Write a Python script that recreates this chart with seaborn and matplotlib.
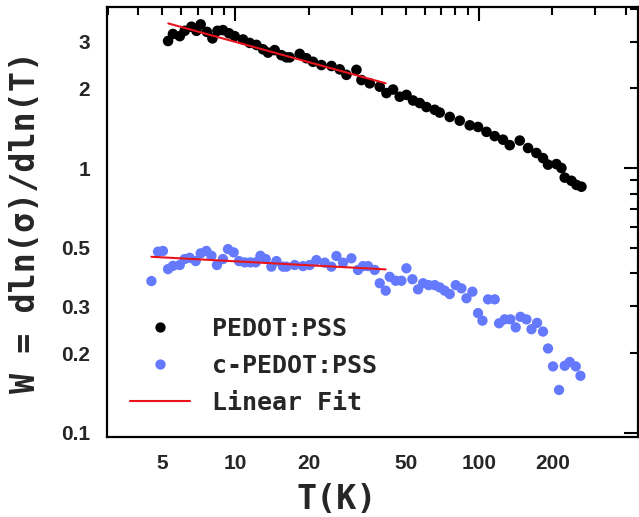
import matplotlib
matplotlib.use("Agg")
import matplotlib.pyplot as plt
import seaborn as sns
import pandas as pd
from matplotlib.ticker import FixedLocator, FuncFormatter
from matplotlib.lines import Line2D

# Temperature (K) and exponent W for the pristine film
black_T = [5.29, 5.54, 5.91, 6.19, 6.60, 6.92, 7.20, 7.64, 8.05, 8.44,
           8.89, 9.41, 9.93, 10.75, 11.45, 12.20, 12.98, 13.61, 14.50, 15.45,
           16.20, 16.71, 18.37, 19.57, 20.83, 22.55, 24.80, 26.82, 28.57, 31.40,
           32.93, 35.61, 39.14, 41.71, 44.39, 47.29, 50.41, 53.64, 57.14, 60.87,
           65.84, 69.02, 75.88, 83.40, 91.66, 99.15, 107.4, 116.1, 125.6, 133.8,
           147.1, 159.1, 172.2, 183.3, 192.2, 208.1, 218.2, 225.1, 239.9, 251.5,
           263.6]
black_W = [3.02, 3.21, 3.15, 3.30, 3.42, 3.30, 3.49, 3.27, 3.09, 3.30,
           3.32, 3.23, 3.15, 3.06, 2.97, 2.92, 2.81, 2.73, 2.79, 2.67,
           2.62, 2.62, 2.70, 2.60, 2.52, 2.45, 2.43, 2.36, 2.25, 2.35,
           2.15, 2.09, 2.03, 1.92, 1.98, 1.86, 1.89, 1.80, 1.76, 1.70,
           1.66, 1.62, 1.56, 1.51, 1.45, 1.43, 1.37, 1.32, 1.28, 1.22,
           1.27, 1.19, 1.14, 1.09, 1.03, 1.035, 1.00, 0.92, 0.895, 0.863,
           0.85]

# Temperature (K) and exponent W for the treated film
blue_T = [4.52, 4.81, 5.04, 5.29, 5.54, 5.91, 6.19, 6.49, 6.87, 7.20,
          7.60, 7.97, 8.40, 8.89, 9.32, 9.84, 10.35, 10.92, 11.52, 12.12,
          12.67, 13.32, 14.05, 14.74, 15.69, 16.20, 17.52, 18.95, 20.19, 21.51,
          23.27, 24.79, 25.99, 27.66, 29.95, 31.88, 33.42, 35.04, 37.34, 39.14,
          41.42, 43.02, 45.52, 48.05, 50.38, 53.33, 56.22, 58.95, 62.21, 65.84,
          69.02, 72.37, 75.88, 80.33, 84.77, 88.88, 94.03, 99.15, 103.4, 109.0,
          116.1, 121.0, 127.6, 134.7, 141.6, 148.1, 156.7, 164.3, 173.3, 183.3,
          192.2, 201.5, 213.3, 225.1, 236.0, 249.8, 261.2]
blue_W = [0.374, 0.483, 0.486, 0.415, 0.427, 0.430, 0.453, 0.458, 0.445, 0.476,
          0.486, 0.466, 0.430, 0.453, 0.494, 0.480, 0.445, 0.440, 0.440, 0.440,
          0.466, 0.453, 0.424, 0.445, 0.424, 0.424, 0.430, 0.426, 0.430, 0.449,
          0.439, 0.424, 0.465, 0.439, 0.456, 0.412, 0.426, 0.426, 0.412, 0.367,
          0.344, 0.388, 0.375, 0.375, 0.418, 0.380, 0.348, 0.367, 0.361, 0.361,
          0.354, 0.344, 0.334, 0.361, 0.351, 0.322, 0.341, 0.283, 0.265, 0.319,
          0.319, 0.259, 0.268, 0.268, 0.250, 0.274, 0.268, 0.246, 0.260, 0.241,
          0.208, 0.178, 0.145, 0.179, 0.185, 0.178, 0.164]

# Power-law fits (end points of each straight segment on log-log axes)
fit_black_T = [5.3, 41.4]
fit_black_W = [3.52, 2.09]
fit_blue_T = [4.52, 41.4]
fit_blue_W = [0.462, 0.414]

series_labels = ["PEDOT:PSS", "c-PEDOT:PSS", "Linear Fit"]
x_tick_labels = [5, 10, 20, 50, 100, 200]
y_tick_labels = [0.1, 0.2, 0.3, 0.5, 1, 2, 3]

BLUE = "#6479fb"
RED = "#e8141c"

sns.set_theme(style="white")
plt.rcParams["font.family"] = ["DejaVu Sans"]

fig = plt.figure(figsize=(6.39, 5.17), dpi=100)
ax = fig.add_axes([107 / 639, 80 / 517, 531 / 639, 430 / 517])

df_black = pd.DataFrame({"T": black_T, "W": black_W})
df_blue = pd.DataFrame({"T": blue_T, "W": blue_W})
sns.scatterplot(data=df_black, x="T", y="W", color="black", s=58,
                edgecolor="none", ax=ax, zorder=3)
sns.scatterplot(data=df_blue, x="T", y="W", color=BLUE, s=55,
                edgecolor="none", ax=ax, zorder=3)
sns.lineplot(x=fit_black_T, y=fit_black_W, color=RED, lw=1.5, ax=ax, zorder=4)
sns.lineplot(x=fit_blue_T, y=fit_blue_W, color=RED, lw=1.5, ax=ax, zorder=4)

ax.set_xscale("log")
ax.set_yscale("log")
ax.set_xlim(2.97, 450)
ax.set_ylim(0.0963, 4.06)

# tick layout: decades long, everything else short
ax.xaxis.set_major_locator(FixedLocator([10, 100]))
ax.xaxis.set_minor_locator(FixedLocator([3, 4, 5, 6, 7, 8, 9, 20, 30, 40, 50, 60,
                                         70, 80, 90, 200, 300, 400]))
ax.yaxis.set_major_locator(FixedLocator([0.1, 1]))
ax.yaxis.set_minor_locator(FixedLocator([0.2, 0.3, 0.4, 0.5, 0.6, 0.7, 0.8, 0.9,
                                         2, 3, 4]))


def fmt_factory(allowed):
    def f(v, pos):
        for a in allowed:
            if abs(v - a) < 1e-6 * max(a, 1):
                return f"{a:g}"
        return ""
    return FuncFormatter(f)


ax.xaxis.set_major_formatter(fmt_factory(x_tick_labels))
ax.xaxis.set_minor_formatter(fmt_factory(x_tick_labels))
ax.yaxis.set_major_formatter(fmt_factory(y_tick_labels))
ax.yaxis.set_minor_formatter(fmt_factory(y_tick_labels))

ax.tick_params(which="both", direction="in", top=True, right=True,
               width=1.5, color="black", pad=12, labelsize=15)
ax.tick_params(which="major", length=10)
ax.tick_params(which="minor", length=6)
for lab in ax.get_xticklabels(which="both") + ax.get_yticklabels(which="both"):
    lab.set_fontfamily("Liberation Sans")
    lab.set_fontweight("bold")

for sp in ax.spines.values():
    sp.set_linewidth(1.6)
    sp.set_color("black")

label_font = dict(family="DejaVu Sans Mono", weight="bold", size=24)
ax.set_xlabel("T(K)", **label_font)
ax.set_ylabel("W = dln(σ)/dln(T)", **label_font)
ax.xaxis.set_label_coords(0.433, -0.106)
ax.yaxis.set_label_coords(-0.122, 0.5)

handles = [
    Line2D([], [], ls="none", marker="o", ms=7.4, color="black", mec="none"),
    Line2D([], [], ls="none", marker="o", ms=7.4, color=BLUE, mec="none"),
    Line2D([], [], color=RED, lw=1.5),
]
ax.legend(handles, series_labels, loc="upper left",
          bbox_to_anchor=(0.0433, 0.280), frameon=False,
          prop=dict(family="DejaVu Sans Mono", size=18, weight="bold"),
          handlelength=2.4, handletextpad=0.9, labelspacing=0.52,
          borderpad=0, borderaxespad=0)

fig.savefig("out.png", dpi=100)
